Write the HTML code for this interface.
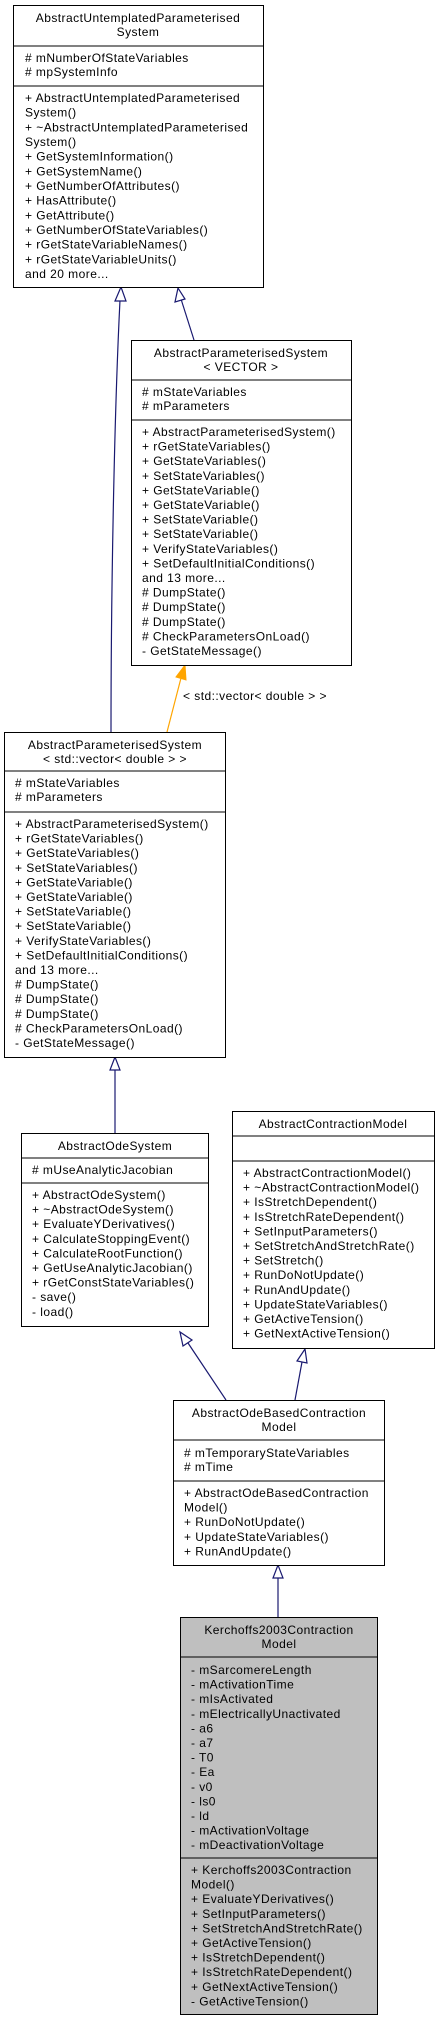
<!DOCTYPE html>
<html><head><meta charset="utf-8"><style>
html,body{margin:0;padding:0;background:#fff;}
svg{display:block;}
text{font-family:"Liberation Sans",Arial,sans-serif;font-size:12px;fill:#000;letter-spacing:0.45px;}
.c{text-anchor:middle;}
</style></head><body>
<svg width="439" height="2021" viewBox="0 0 439 2021" xmlns="http://www.w3.org/2000/svg">
<g fill="none" stroke="#191970" stroke-width="1.2">
<path d="M111,732 C111,600 114,420 120,300"/>
<path d="M194,340 L181,299"/>
<path d="M115,1133 L115,1069"/>
<path d="M226,1400 L188,1343"/>
<path d="M295,1400 L302,1362"/>
<path d="M278,1617 L278,1578"/>
</g>
<g fill="#fff" stroke="#191970" stroke-width="1.2">
<polygon points="121,287 115,301 126,301"/>
<polygon points="178,288 175,302 185,299"/>
<polygon points="115,1057 110,1070 120,1070"/>
<polygon points="180,1332 183,1346 192,1340"/>
<polygon points="305,1349 297,1361 307,1363"/>
<polygon points="278,1565 273,1578 283,1578"/>
</g>
<path d="M167,732 L181,678" stroke="#ffa500" stroke-width="1.2" fill="none"/>
<polygon points="185,665 176,677 186,680" fill="#ffa500" stroke="#ffa500"/>
<text x="183" y="700">&lt; std::vector&lt; double &gt; &gt;</text>

<g stroke="#000" stroke-width="1" fill="#fff">
<rect x="13.5" y="5.5" width="250" height="282"/>
<line x1="13.5" y1="46" x2="263.5" y2="46"/><line x1="13.5" y1="86" x2="263.5" y2="86"/>
<rect x="131.5" y="340.5" width="220" height="325"/>
<line x1="131.5" y1="380" x2="351.5" y2="380"/><line x1="131.5" y1="420" x2="351.5" y2="420"/>
<rect x="4.5" y="732.5" width="221" height="325"/>
<line x1="4.5" y1="771" x2="225.5" y2="771"/><line x1="4.5" y1="812" x2="225.5" y2="812"/>
<rect x="21.5" y="1133.5" width="187" height="193"/>
<line x1="21.5" y1="1158" x2="208.5" y2="1158"/><line x1="21.5" y1="1183" x2="208.5" y2="1183"/>
<rect x="232.5" y="1111.5" width="202" height="237"/>
<line x1="232.5" y1="1136" x2="434.5" y2="1136"/><line x1="232.5" y1="1161" x2="434.5" y2="1161"/>
<rect x="173.5" y="1400.5" width="211" height="165"/>
<line x1="173.5" y1="1440" x2="384.5" y2="1440"/><line x1="173.5" y1="1481" x2="384.5" y2="1481"/>
<rect x="180.5" y="1617.5" width="197" height="397" fill="#bfbfbf"/>
<line x1="180.5" y1="1657" x2="377.5" y2="1657"/><line x1="180.5" y1="1858" x2="377.5" y2="1858"/>
</g>

<text class="c" x="138" y="22">AbstractUntemplatedParameterised</text>
<text class="c" x="138" y="36">System</text>
<text x="25" y="62"># mNumberOfStateVariables</text>
<text x="25" y="76"># mpSystemInfo</text>
<text x="25" y="102">+ AbstractUntemplatedParameterised</text>
<text x="25" y="116.7">System()</text>
<text x="25" y="131.3">+ ~AbstractUntemplatedParameterised</text>
<text x="25" y="146">System()</text>
<text x="25" y="160.7">+ GetSystemInformation()</text>
<text x="25" y="175.3">+ GetSystemName()</text>
<text x="25" y="190">+ GetNumberOfAttributes()</text>
<text x="25" y="204.7">+ HasAttribute()</text>
<text x="25" y="219.3">+ GetAttribute()</text>
<text x="25" y="234">+ GetNumberOfStateVariables()</text>
<text x="25" y="248.7">+ rGetStateVariableNames()</text>
<text x="25" y="263.3">+ rGetStateVariableUnits()</text>
<text x="25" y="278">and 20 more...</text>

<text class="c" x="241" y="357">AbstractParameterisedSystem</text>
<text class="c" x="241" y="371">&lt; VECTOR &gt;</text>
<text x="142" y="396"># mStateVariables</text>
<text x="142" y="410"># mParameters</text>
<text x="142" y="436">+ AbstractParameterisedSystem()</text>
<text x="142" y="450.6">+ rGetStateVariables()</text>
<text x="142" y="465.2">+ GetStateVariables()</text>
<text x="142" y="479.8">+ SetStateVariables()</text>
<text x="142" y="494.4">+ GetStateVariable()</text>
<text x="142" y="509">+ GetStateVariable()</text>
<text x="142" y="523.6">+ SetStateVariable()</text>
<text x="142" y="538.2">+ SetStateVariable()</text>
<text x="142" y="552.8">+ VerifyStateVariables()</text>
<text x="142" y="567.4">+ SetDefaultInitialConditions()</text>
<text x="142" y="582">and 13 more...</text>
<text x="142" y="596.6"># DumpState()</text>
<text x="142" y="611.2"># DumpState()</text>
<text x="142" y="625.8"># DumpState()</text>
<text x="142" y="640.4"># CheckParametersOnLoad()</text>
<text x="142" y="655">- GetStateMessage()</text>

<text class="c" x="115" y="749">AbstractParameterisedSystem</text>
<text class="c" x="115" y="763">&lt; std::vector&lt; double &gt; &gt;</text>
<text x="15" y="787"># mStateVariables</text>
<text x="15" y="801"># mParameters</text>
<text x="15" y="828">+ AbstractParameterisedSystem()</text>
<text x="15" y="842.6">+ rGetStateVariables()</text>
<text x="15" y="857.2">+ GetStateVariables()</text>
<text x="15" y="871.8">+ SetStateVariables()</text>
<text x="15" y="886.4">+ GetStateVariable()</text>
<text x="15" y="901">+ GetStateVariable()</text>
<text x="15" y="915.6">+ SetStateVariable()</text>
<text x="15" y="930.2">+ SetStateVariable()</text>
<text x="15" y="944.8">+ VerifyStateVariables()</text>
<text x="15" y="959.4">+ SetDefaultInitialConditions()</text>
<text x="15" y="974">and 13 more...</text>
<text x="15" y="988.6"># DumpState()</text>
<text x="15" y="1003.2"># DumpState()</text>
<text x="15" y="1017.8"># DumpState()</text>
<text x="15" y="1032.4"># CheckParametersOnLoad()</text>
<text x="15" y="1047">- GetStateMessage()</text>

<text class="c" x="115" y="1150">AbstractOdeSystem</text>
<text x="32" y="1174"># mUseAnalyticJacobian</text>
<text x="32" y="1199">+ AbstractOdeSystem()</text>
<text x="32" y="1213.6">+ ~AbstractOdeSystem()</text>
<text x="32" y="1228.2">+ EvaluateYDerivatives()</text>
<text x="32" y="1242.8">+ CalculateStoppingEvent()</text>
<text x="32" y="1257.4">+ CalculateRootFunction()</text>
<text x="32" y="1272">+ GetUseAnalyticJacobian()</text>
<text x="32" y="1286.6">+ rGetConstStateVariables()</text>
<text x="32" y="1301.2">- save()</text>
<text x="32" y="1315.8">- load()</text>

<text class="c" x="333" y="1128">AbstractContractionModel</text>
<text x="243" y="1177">+ AbstractContractionModel()</text>
<text x="243" y="1191.6">+ ~AbstractContractionModel()</text>
<text x="243" y="1206.2">+ IsStretchDependent()</text>
<text x="243" y="1220.8">+ IsStretchRateDependent()</text>
<text x="243" y="1235.4">+ SetInputParameters()</text>
<text x="243" y="1250">+ SetStretchAndStretchRate()</text>
<text x="243" y="1264.6">+ SetStretch()</text>
<text x="243" y="1279.2">+ RunDoNotUpdate()</text>
<text x="243" y="1293.8">+ RunAndUpdate()</text>
<text x="243" y="1308.4">+ UpdateStateVariables()</text>
<text x="243" y="1323">+ GetActiveTension()</text>
<text x="243" y="1337.6">+ GetNextActiveTension()</text>

<text class="c" x="279" y="1417">AbstractOdeBasedContraction</text>
<text class="c" x="279" y="1431">Model</text>
<text x="184" y="1457"># mTemporaryStateVariables</text>
<text x="184" y="1471"># mTime</text>
<text x="184" y="1497">+ AbstractOdeBasedContraction</text>
<text x="184" y="1511.6">Model()</text>
<text x="184" y="1526.2">+ RunDoNotUpdate()</text>
<text x="184" y="1540.8">+ UpdateStateVariables()</text>
<text x="184" y="1555.4">+ RunAndUpdate()</text>

<text class="c" x="279" y="1634">Kerchoffs2003Contraction</text>
<text class="c" x="279" y="1648">Model</text>
<text x="191" y="1674">- mSarcomereLength</text>
<text x="191" y="1688.6">- mActivationTime</text>
<text x="191" y="1703.2">- mIsActivated</text>
<text x="191" y="1717.8">- mElectricallyUnactivated</text>
<text x="191" y="1732.4">- a6</text>
<text x="191" y="1747">- a7</text>
<text x="191" y="1761.6">- T0</text>
<text x="191" y="1776.2">- Ea</text>
<text x="191" y="1790.8">- v0</text>
<text x="191" y="1805.4">- ls0</text>
<text x="191" y="1820">- ld</text>
<text x="191" y="1834.6">- mActivationVoltage</text>
<text x="191" y="1849.2">- mDeactivationVoltage</text>
<text x="191" y="1874">+ Kerchoffs2003Contraction</text>
<text x="191" y="1888.6">Model()</text>
<text x="191" y="1903.2">+ EvaluateYDerivatives()</text>
<text x="191" y="1917.8">+ SetInputParameters()</text>
<text x="191" y="1932.4">+ SetStretchAndStretchRate()</text>
<text x="191" y="1947">+ GetActiveTension()</text>
<text x="191" y="1961.6">+ IsStretchDependent()</text>
<text x="191" y="1976.2">+ IsStretchRateDependent()</text>
<text x="191" y="1990.8">+ GetNextActiveTension()</text>
<text x="191" y="2005.4">- GetActiveTension()</text>
</svg>
</body></html>
